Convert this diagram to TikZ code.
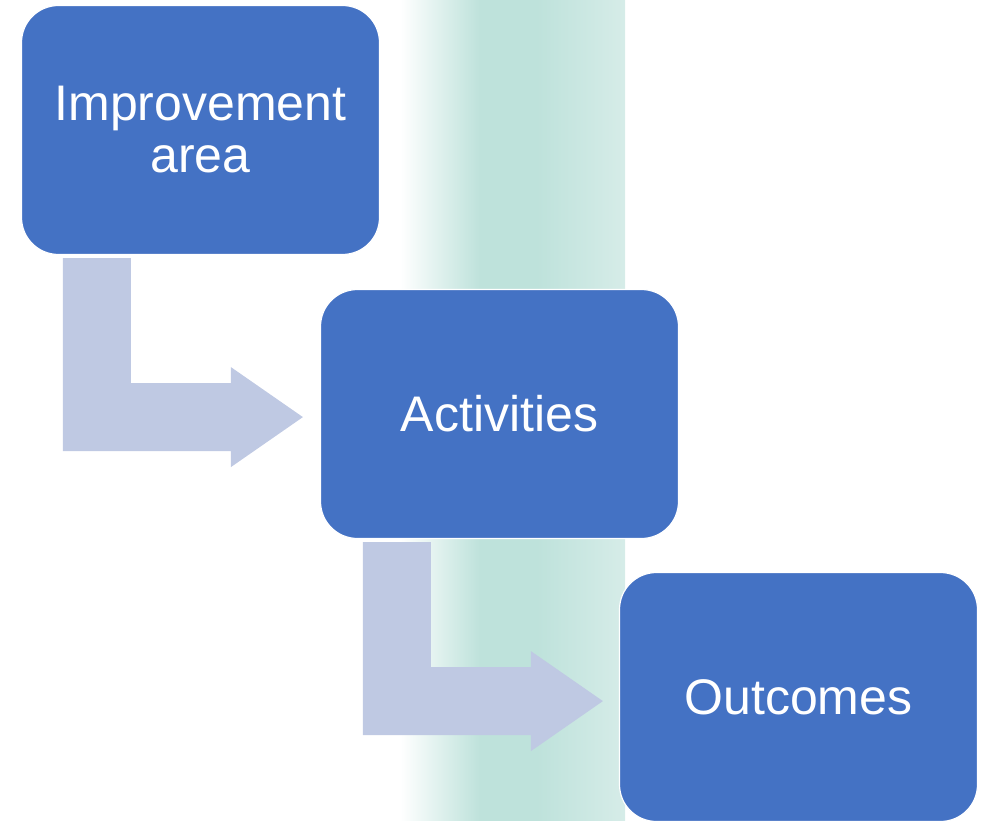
\documentclass[tikz,border=0pt]{standalone}
\usepackage{fontspec}
\setmainfont{Liberation Sans}
\usetikzlibrary{calc}
\definecolor{boxblue}{HTML}{4472C4}
\definecolor{arrowblue}{HTML}{BFC9E3}
\definecolor{bandteal}{RGB}{190,226,219}
\definecolor{bandlight}{RGB}{214,236,232}
\pgfdeclarehorizontalshading{bandshade}{100bp}{color(0bp)=(white); color(25bp)=(white); color(42.8bp)=(bandteal); color(55.4bp)=(bandteal); color(75bp)=(bandlight); color(100bp)=(bandlight)}
\tikzset{
  stepbox/.style={rectangle, rounded corners=37pt, fill=boxblue, draw=white, line width=1.2pt,
    minimum width=358pt, minimum height=249pt, inner sep=0pt, text=white,
    font=\fontsize{50pt}{52pt}\selectfont, align=center},
  bentarrow/.style={fill=arrowblue, draw=none}
}
\begin{document}
\begin{tikzpicture}[x=1pt,y=-1pt]
\useasboundingbox (0,0) rectangle (983,821);
\shade[shading=bandshade] (400,0) rectangle (625,821);
\node[stepbox] (b1) at (200.5,130) {Improvement\\area};
\node[stepbox] (b2) at (499.5,414) {Activities};
\node[stepbox] (b3) at (798.5,697) {Outcomes};
\fill[bentarrow] ($(b1.south west)+(42,3)$) -- ++(68,0) -- ++(0,125) -- ++(100,0) -- ++(0,-16)
  -- ++(72,50) -- ++(-72,50) -- ++(0,-16) -- ++(-168,0) -- cycle;
\fill[bentarrow] ($(b2.south west)+(43,3)$) -- ++(68,0) -- ++(0,125) -- ++(100,0) -- ++(0,-16)
  -- ++(72,50) -- ++(-72,50) -- ++(0,-16) -- ++(-168,0) -- cycle;
\end{tikzpicture}
\end{document}
